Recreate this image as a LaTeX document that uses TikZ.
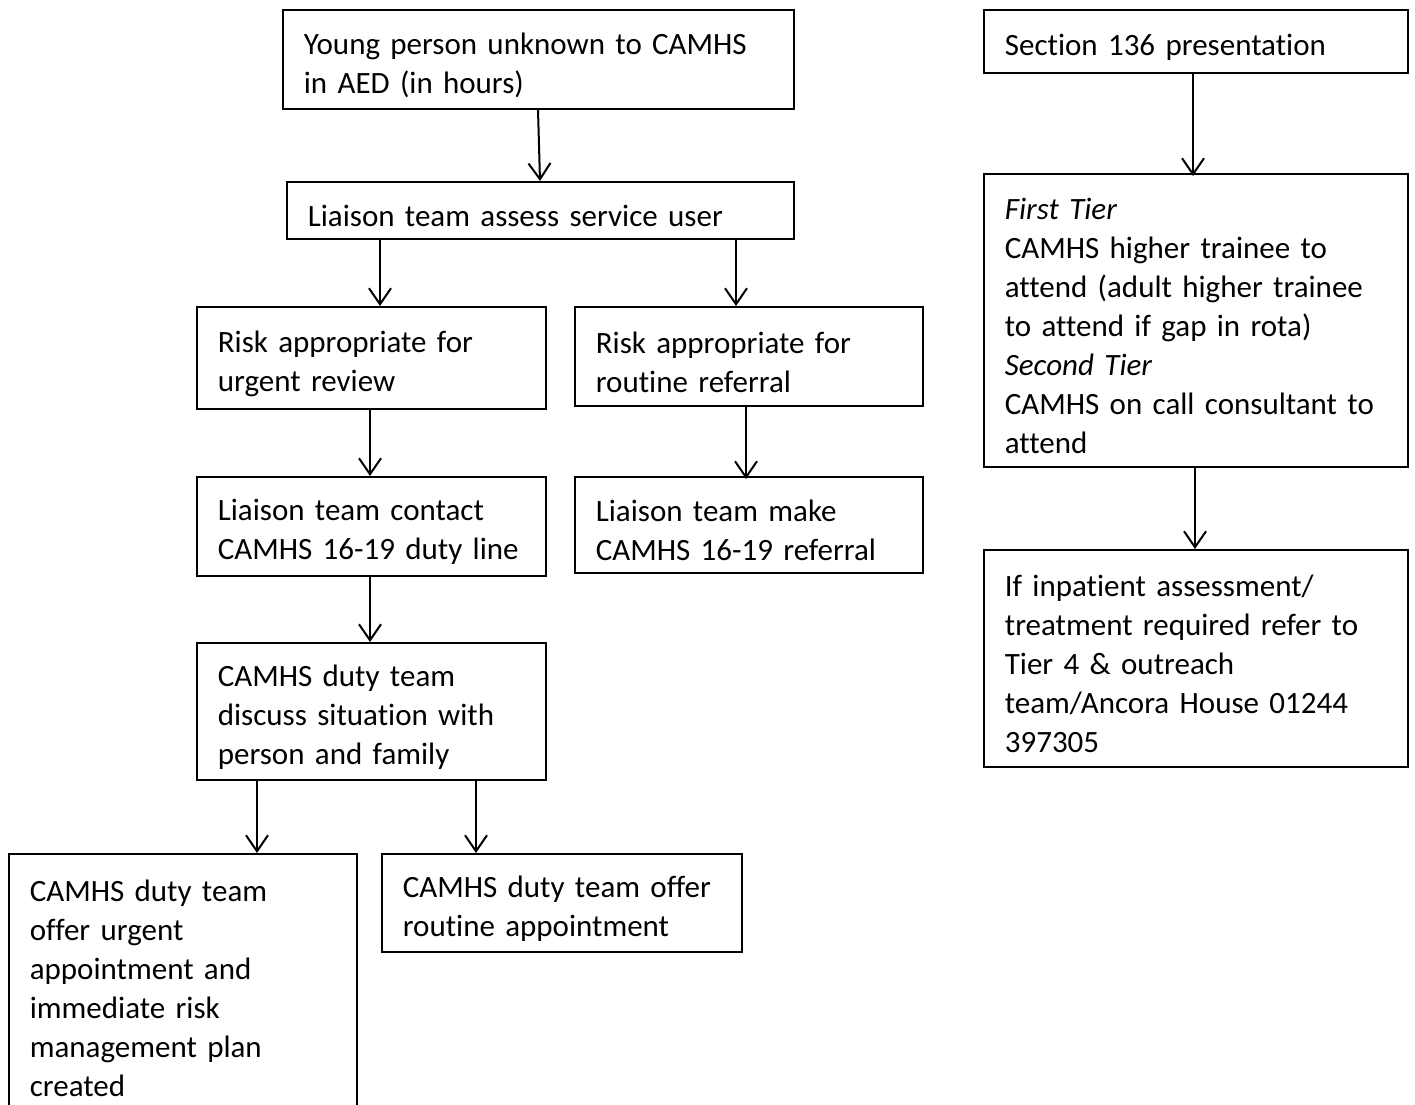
\documentclass[tikz,border=0pt]{standalone}
\usepackage{fontspec}
\setmainfont[RawFeature=-liga]{Carlito}
\usetikzlibrary{arrows.meta}
\newcommand\tstrut{\rule{0pt}{33pt}}
\begin{document}
\begin{tikzpicture}[x=1pt,y=-1pt,
  box/.style={draw, line width=1.7pt, anchor=north west, align=left,
    inner xsep=21pt, inner ysep=0pt, font=\fontsize{31}{39}\selectfont},
  arr/.style={line width=2pt, -{Straight Barb[length=16pt,width=22pt,line width=2pt]}}]
\useasboundingbox (0,0) rectangle (1415,1104);
\clip (0,0) rectangle (1415,1104);

\node[box, text width=469pt, minimum height=99pt] (top) at (282,9)
  {\tstrut Young person unknown to CAMHS\\in AED (in hours)};
\node[box, text width=465pt, minimum height=57pt] (liaison) at (286,181)
  {\tstrut Liaison team assess service user};
\node[box, text width=307pt, minimum height=102pt] (urgent) at (196,306)
  {\tstrut Risk appropriate for\\urgent review};
\node[box, text width=306pt, minimum height=99pt] (routine) at (574,306)
  {\tstrut Risk appropriate for\\routine referral};
\node[box, text width=307pt, minimum height=99pt] (contact) at (196,476)
  {\tstrut Liaison team contact\\CAMHS 16-19 duty line};
\node[box, text width=306pt, minimum height=96pt] (make) at (574,476)
  {\tstrut Liaison team make\\CAMHS 16-19 referral};
\node[box, text width=307pt, minimum height=137pt] (discuss) at (196,642)
  {\tstrut CAMHS duty team\\discuss situation with\\person and family};
\node[box, text width=306pt, minimum height=257pt] (urgapp) at (8,853)
  {\tstrut CAMHS duty team\\offer urgent\\appointment and\\immediate risk\\management plan\\created};
\node[box, text width=318pt, minimum height=98pt] (routapp) at (381,853)
  {\tstrut CAMHS duty team offer\\routine appointment};
\node[box, text width=382pt, minimum height=63pt] (s136) at (983,9)
  {\tstrut Section 136 presentation};
\node[box, text width=382pt, minimum height=293pt] (tier) at (983,173)
  {\tstrut\textit{First Tier}\\CAMHS higher trainee to\\attend (adult higher trainee\\to attend if gap in rota)\\\textit{Second Tier}\\CAMHS on call consultant to\\attend};
\node[box, text width=382pt, minimum height=217pt] (inpat) at (983,549)
  {\tstrut If inpatient assessment/\\treatment required refer to\\Tier 4 \& outreach\\team/Ancora House 01244\\397305};

\draw[arr] (top.south -| 538,0) -- (liaison.north -| 540,0);
\draw[arr] (liaison.south -| 380,0) -- (urgent.north -| 380,0);
\draw[arr] (liaison.south -| 736,0) -- (routine.north -| 736,0);
\draw[arr] (urgent.south -| 370,0) -- (contact.north -| 370,0);
\draw[arr] (routine.south -| 746,0) -- ([yshift=-3pt]make.north -| 746,0);
\draw[arr] (contact.south -| 370,0) -- (discuss.north -| 370,0);
\draw[arr] (discuss.south -| 257,0) -- (urgapp.north -| 257,0);
\draw[arr] (discuss.south -| 476,0) -- (routapp.north -| 476,0);
\draw[arr] (s136.south -| 1193,0) -- ([yshift=-3pt]tier.north -| 1193,0);
\draw[arr] (tier.south -| 1195,0) -- (inpat.north -| 1195,0);
\end{tikzpicture}
\end{document}
